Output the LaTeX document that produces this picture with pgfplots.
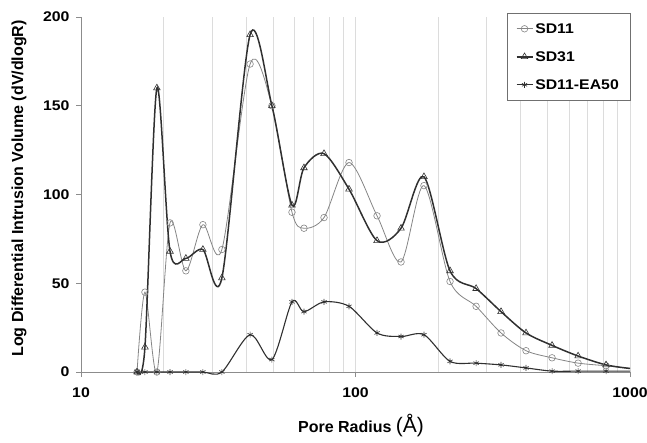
\documentclass[border=0pt]{standalone}
\usepackage{fontspec}
\setmainfont{Liberation Sans}
\newfontfamily\tickfont{Liberation Sans}[FakeStretch=1.13]
\usepackage{pgfplots}
\usepackage{pgfplotstable}
\pgfplotsset{compat=1.18}

\definecolor{sdgray}{HTML}{858585}
\definecolor{sddark}{HTML}{303030}
\definecolor{axisgray}{HTML}{8C8C8C}
\definecolor{gridgray}{HTML}{DCDCDC}

% pore radius (A) and log differential intrusion volume
\pgfplotstableread{
r     sd11   sd31   ea50
16.0  0      0      0
17.1  45     14     0
18.9  0      160    0
21.1  84     68     0
24.1  57     64     0
27.8  83     69     0
32.6  69     53     0
41.3  173.5  190    21
49.6  150    150    7
58.7  90     94     39.5
64.9  81     115    34
76.8  87     123    39.5
94.7  118    103    37
119.8 88     74     22
146.5 62     81     20
177.6 105    110    21
221   51     57     6
275   37     47     5
339   22     34     4
418   12     22     2.3
520   8      15     0.5
647   5      9      0.5
818   3.5    4      0.5
1000  2      2      0.5
}\poredata

\begin{document}
\begin{tikzpicture}
\begin{axis}[
  name=ax,
  scale only axis,
  width=549pt, height=355pt,
  xmode=log,
  xmin=10, xmax=1000,
  ymin=0, ymax=200,
  clip=false,
  axis lines*=left,
  axis line style={draw=axisgray, line width=0.8pt},
  xtick={10,100,1000},
  xticklabels={10,100,1000},
  ytick={0,50,...,200},
  minor xtick={20,30,...,90,200,300,...,900},
  xmajorgrids, xminorgrids,
  major grid style={draw=gridgray, line width=0.6pt},
  minor grid style={draw=gridgray, line width=0.6pt},
  tick align=outside,
  major tick length=5pt,
  minor tick length=0pt,
  tick style={draw=axisgray, line width=0.8pt},
  /pgf/number format/assume math mode=true,
  ticklabel style={font=\tickfont\bfseries\fontsize{14}{14}\selectfont},
  yticklabel style={xshift=-3pt},
  xticklabel style={yshift=-7pt},
  xlabel={\bfseries Pore Radius {\mdseries\fontsize{21}{21}\selectfont(Å)}},
  ylabel={\bfseries Log Differential Intrusion Volume (dV/dlogR)},
  every axis x label/.style={at={(axis description cs:0.51,-0.1718)}, anchor=base,
    font=\fontsize{16}{16}\selectfont},
  every axis y label/.style={at={(axis description cs:-0.1056,0.517)}, anchor=base,
    rotate=90, font=\fontsize{16}{16}\selectfont},
  legend style={at={(1,1.011)}, anchor=north east,
    draw=axisgray!80!black, fill=white,
    font=\tickfont\bfseries\fontsize{14}{14}\selectfont,
    inner xsep=9pt, inner ysep=8pt, row sep=13pt,
    nodes={inner sep=2pt, text height=10pt, text depth=1pt}},
  legend cell align=left,
  legend image code/.code={
    \draw[#1, mark=none] (0pt,0pt) -- (16pt,0pt);
    \draw[#1, only marks] plot coordinates {(8pt,0pt)};},
]
\addplot[sdgray, line width=0.8pt, smooth, mark=o, mark size=3.3pt,
  mark indices={1,...,23}, mark options={fill=white, line width=0.6pt}]
  table[x=r, y=sd11] {\poredata};
\addlegendentry{SD11}
\addplot[sddark, line width=1.5pt, smooth, mark=triangle, mark size=3.8pt,
  mark indices={1,...,23}, mark options={fill=white, line width=0.6pt}]
  table[x=r, y=sd31] {\poredata};
\addlegendentry{SD31}
\addplot[sddark, line width=1.1pt, smooth, mark=asterisk, mark size=3pt,
  mark indices={1,...,23}, mark options={line width=0.6pt}]
  table[x=r, y=ea50] {\poredata};
\addlegendentry{SD11-EA50}
\end{axis}
\pgfresetboundingbox
\path[use as bounding box] ([shift={(-81pt,-70pt)}]ax.south west)
  rectangle ([shift={(17pt,17pt)}]ax.north east);
\end{tikzpicture}
\end{document}
